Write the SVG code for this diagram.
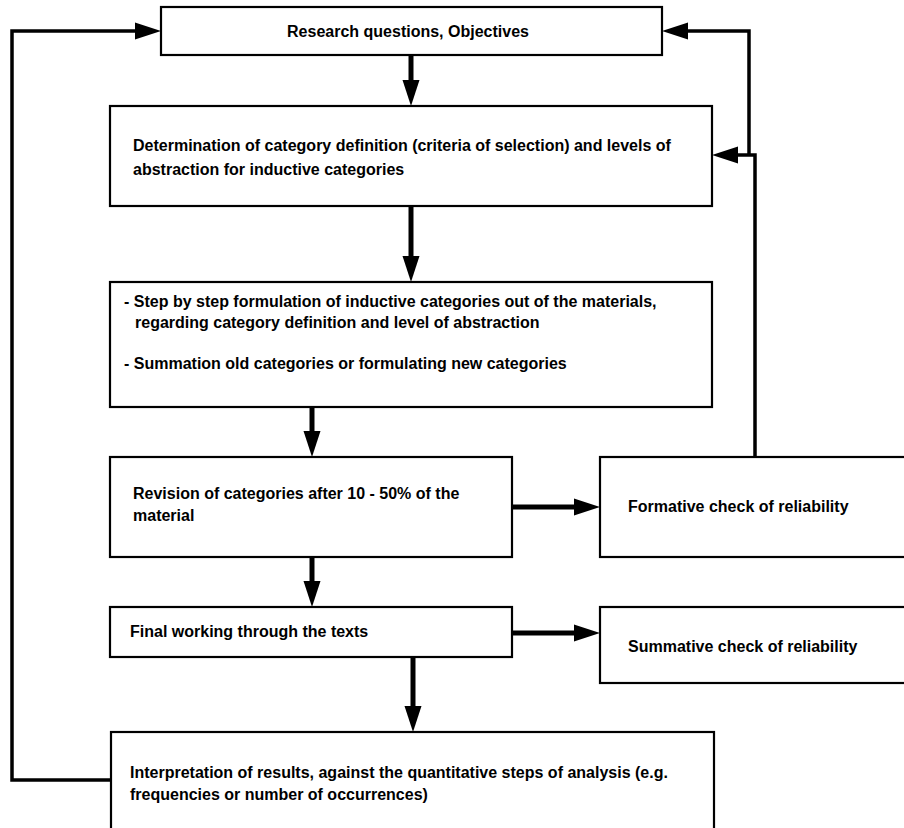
<svg xmlns="http://www.w3.org/2000/svg" width="904" height="828" viewBox="0 0 904 828">
<style>
.box{fill:#fff;stroke:#000;stroke-width:2.2}
.t{font-family:"Liberation Sans",Arial,sans-serif;font-size:16px;font-weight:bold;fill:#000}
.c{fill:none;stroke:#000;stroke-width:3.5}
.a{fill:none;stroke:#000;stroke-width:5}
</style>
<defs>
<marker id="ah" markerUnits="userSpaceOnUse" markerWidth="26" markerHeight="18" refX="16" refY="8.5" orient="auto" viewBox="0 0 26 17">
<path d="M0,0 L26,8.5 L0,17 Z" fill="#000"/>
</marker>
</defs>
<g id="connectors">
<line class="a" x1="411" y1="55" x2="411" y2="96" marker-end="url(#ah)"/>
<line class="a" x1="411" y1="206" x2="411" y2="272" marker-end="url(#ah)"/>
<line class="a" x1="312" y1="407" x2="312" y2="447" marker-end="url(#ah)"/>
<line class="a" x1="312" y1="557" x2="312" y2="597" marker-end="url(#ah)"/>
<line class="a" x1="413" y1="657" x2="413" y2="722" marker-end="url(#ah)"/>
<line class="a" x1="512" y1="507" x2="590" y2="507" marker-end="url(#ah)"/>
<line class="a" x1="512" y1="633" x2="590" y2="633" marker-end="url(#ah)"/>
<polyline class="c" points="111,780 12,780 12,31 151,31" marker-end="url(#ah)"/>
<polyline class="c" points="749,155 749,31 672,31" marker-end="url(#ah)"/>
<polyline class="c" points="755,457 755,155 722,155" marker-end="url(#ah)"/>
</g>
<g id="n1">
<rect class="box" x="161" y="7" width="501" height="48"/>
<text class="t" x="408" y="37" text-anchor="middle">Research questions, Objectives</text>
</g>
<g id="n2">
<rect class="box" x="110" y="106" width="602" height="100"/>
<text class="t" x="133" y="151">Determination of category definition (criteria of selection) and levels of</text>
<text class="t" x="133" y="175">abstraction for inductive categories</text>
</g>
<g id="n3">
<rect class="box" x="110" y="282" width="602" height="125"/>
<text class="t" x="124" y="307">- Step by step formulation of inductive categories out of the materials,</text>
<text class="t" x="135" y="328">regarding category definition and level of abstraction</text>
<text class="t" x="124" y="369">- Summation old categories or formulating new categories</text>
</g>
<g id="n4">
<rect class="box" x="110" y="457" width="402" height="100"/>
<text class="t" x="133" y="499">Revision of categories after 10 - 50% of the</text>
<text class="t" x="133" y="521">material</text>
</g>
<g id="n5">
<rect class="box" x="600" y="457" width="310" height="100"/>
<text class="t" x="628" y="512">Formative check of reliability</text>
</g>
<g id="n6">
<rect class="box" x="110" y="607" width="402" height="50"/>
<text class="t" x="130" y="637">Final working through the texts</text>
</g>
<g id="n7">
<rect class="box" x="600" y="607" width="310" height="76"/>
<text class="t" x="628" y="652">Summative check of reliability</text>
</g>
<g id="n8">
<rect class="box" x="111" y="732" width="603" height="110"/>
<text class="t" x="130" y="778">Interpretation of results, against the quantitative steps of analysis (e.g.</text>
<text class="t" x="130" y="800">frequencies or number of occurrences)</text>
</g>
</svg>
